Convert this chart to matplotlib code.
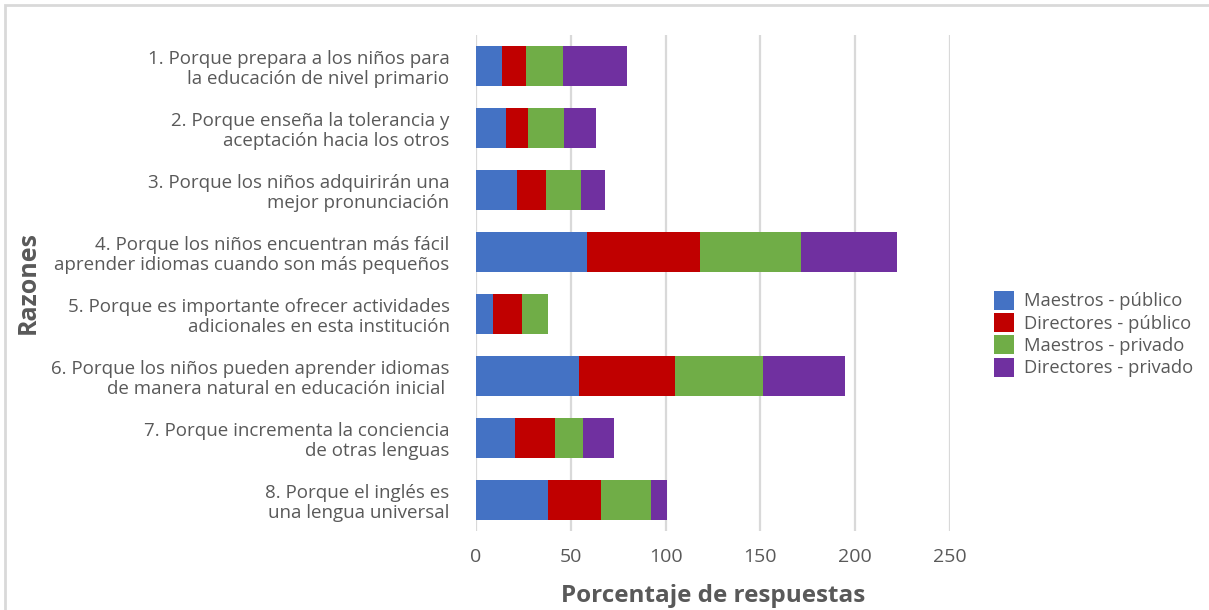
import matplotlib.pyplot as plt
import matplotlib.patches as mpatches
import numpy as np

razones = [
    "1. Porque prepara a los niños para\nla educación de nivel primario",
    "2. Porque enseña la tolerancia y\naceptación hacia los otros",
    "3. Porque los niños adquirirán una\nmejor pronunciación",
    "4. Porque los niños encuentran más fácil\naprender idiomas cuando son más pequeños",
    "5. Porque es importante ofrecer actividades\nadicionales en esta institución",
    "6. Porque los niños pueden aprender idiomas\nde manera natural en educación inicial ",
    "7. Porque incrementa la conciencia\nde otras lenguas",
    "8. Porque el inglés es\nuna lengua universal",
]
series = ["Maestros - público", "Directores - público",
          "Maestros - privado", "Directores - privado"]
maestros_publico = [13.6, 15.7, 21.5, 58.5, 8.8, 54.2, 20.4, 37.9]
directores_publico = [12.6, 11.6, 15.3, 59.6, 15.3, 50.7, 21.1, 28.0]
maestros_privado = [19.6, 19.0, 18.5, 53.4, 13.7, 46.5, 14.8, 26.4]
directores_privado = [33.8, 16.9, 12.7, 50.7, 0.0, 43.3, 16.4, 8.5]
colors = ["#4472C4", "#C00000", "#70AD47", "#7030A0"]
ticks = [0, 50, 100, 150, 200, 250]

plt.rcParams['font.family'] = ['Open Sans', 'DejaVu Sans']
gray = "#595959"

W, H = 1209, 610
fig = plt.figure(figsize=(W / 100, H / 100), dpi=100)
ax = fig.add_axes([476 / W, (H - 531) / H, (950 - 476) / W, (531 - 35) / H])

y = np.arange(len(razones))
left = np.zeros(len(razones))
for vals, col, name in zip([maestros_publico, directores_publico,
                            maestros_privado, directores_privado], colors, series):
    ax.barh(y, vals, left=left, height=0.63, color=col, label=name, zorder=3)
    left += np.array(vals)

ax.set_ylim(len(razones) - 0.5, -0.5)
ax.set_xlim(0, 250)
ax.set_xticks(ticks)
ax.set_yticks(y)
ax.set_yticklabels(razones, fontsize=13.5, color=gray, linespacing=1.15)
ax.tick_params(axis='y', length=0, pad=19)
ax.tick_params(axis='x', length=0, pad=12, labelsize=14, labelcolor=gray)
ax.grid(axis='x', color="#D9D9D9", linewidth=1.6, zorder=0)
for s in ax.spines.values():
    s.set_visible(False)

ax.set_xlabel("Porcentaje de respuestas", fontsize=17.5, fontweight='bold',
              color=gray, labelpad=13)
fig.text(28 / W, 1 - 283 / H, "Razones", rotation=90, fontsize=18,
         fontweight='bold', color=gray, ha='center', va='center')

ax.legend(loc='center left', bbox_to_anchor=(977 / W, 1 - 334 / H),
          bbox_transform=fig.transFigure, frameon=False, fontsize=13.2,
          labelcolor=gray, handlelength=1.1, handleheight=1.2,
          handletextpad=0.55, labelspacing=0.15)

fig.patches.append(mpatches.Rectangle((5 / W, -0.1), 1.2, (H - 5) / H + 0.1,
                                      transform=fig.transFigure, fill=False,
                                      edgecolor="#D9D9D9", linewidth=2))

fig.savefig("out.png", dpi=100)
